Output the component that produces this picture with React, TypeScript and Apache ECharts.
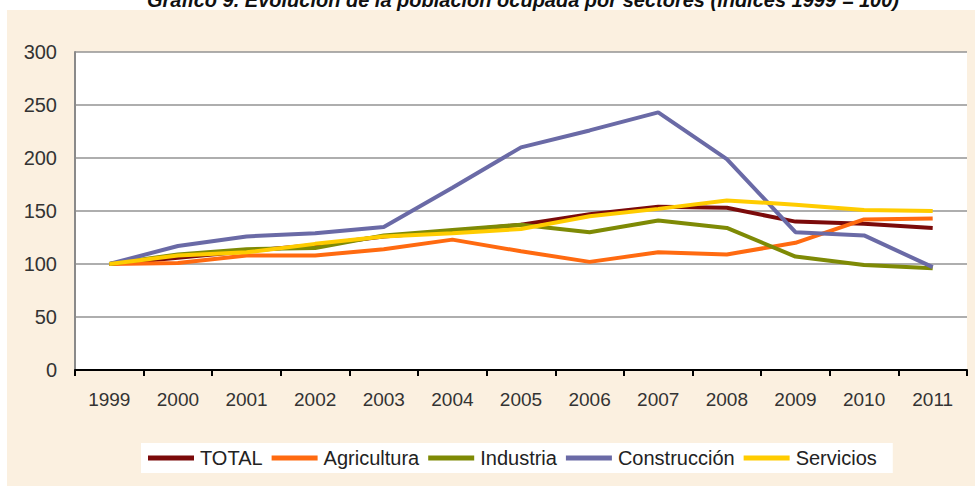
import React, { useEffect, useRef } from "react";
import * as echarts from "echarts";

const years = ["1999", "2000", "2001", "2002", "2003", "2004", "2005", "2006", "2007", "2008", "2009", "2010", "2011"];
const total = [100, 106, 112, 118, 126, 131, 137, 147, 154, 153, 140, 138, 134];
const agricultura = [100, 101, 108, 108, 114, 123, 112, 102, 111, 109, 120, 142, 143];
const industria = [100, 109, 114, 115, 127, 132, 137, 130, 141, 134, 107, 99, 96];
const construccion = [100, 117, 126, 129, 135, 172, 210, 226, 243, 199, 130, 127, 97];
const servicios = [100, 108, 111, 119, 126, 129, 133, 145, 152, 160, 156, 151, 150];

const seriesNames = ["TOTAL", "Agricultura", "Industria", "Construcción", "Servicios"];
const seriesColors = ["#7B0A0A", "#FF6A10", "#7E8A05", "#6A6AA6", "#FFCC00"];
const seriesData = [total, agricultura, industria, construccion, servicios];

const titleText = "Gráfico 9. Evolución de la población ocupada por sectores (índices 1999 = 100)";
const FONT = "Liberation Sans";

export default function App() {
  const ref = useRef<HTMLDivElement>(null);
  useEffect(() => {
    if (!ref.current) return;
    const chart = echarts.init(ref.current, undefined, { renderer: "svg" });
    chart.setOption({
      animation: false,
      backgroundColor: "#ffffff",
      textStyle: { fontFamily: FONT },
      title: {
        text: titleText,
        left: 147,
        top: -10,
        padding: 0,
        textStyle: { fontFamily: FONT, fontSize: 20, fontWeight: "bold", fontStyle: "italic", color: "#111" },
      },
      graphic: [
        {
          type: "rect",
          z: -10,
          shape: { x: 7, y: 10, width: 968, height: 476 },
          style: { fill: "#FBF0E0" },
        },
      ],
      grid: {
        left: 75,
        right: 8,
        top: 52,
        bottom: 117,
        show: true,
        backgroundColor: "#ffffff",
        borderWidth: 0,
      },
      legend: {
        left: 141,
        top: 443,
        backgroundColor: "#ffffff",
        padding: [5, 16, 5, 7],
        itemWidth: 46,
        itemHeight: 5,
        itemGap: 9,
        icon: "rect",
        textStyle: { fontFamily: FONT, fontSize: 20, color: "#222", padding: [0, 0, 0, 1] },
        data: seriesNames,
      },
      xAxis: {
        type: "category",
        data: years,
        boundaryGap: true,
        axisLine: { show: true, lineStyle: { color: "#000", width: 2 } },
        axisTick: { show: true, length: 6, lineStyle: { color: "#000", width: 2 } },
        axisLabel: { show: true, fontFamily: FONT, fontSize: 19, color: "#333", margin: 20 },
        splitLine: { show: false },
      },
      yAxis: {
        type: "value",
        min: 0,
        max: 300,
        interval: 50,
        axisLine: { show: true, lineStyle: { color: "#8a8a8a", width: 2 } },
        axisTick: { show: false },
        axisLabel: { show: true, fontFamily: FONT, fontSize: 20, color: "#333", margin: 18 },
        splitLine: { show: true, lineStyle: { color: "#939393", width: 1.5 } },
      },
      series: seriesNames.map((name, i) => ({
        name,
        type: "line",
        data: seriesData[i],
        symbol: "none",
        showSymbol: false,
        color: seriesColors[i],
        lineStyle: { width: 4, color: seriesColors[i] },
      })),
    });
    return () => chart.dispose();
  }, []);
  return (
    <div
      ref={ref}
      style={{ position: "absolute", left: 0, top: 0, width: 975, height: 487 }}
    />
  );
}
